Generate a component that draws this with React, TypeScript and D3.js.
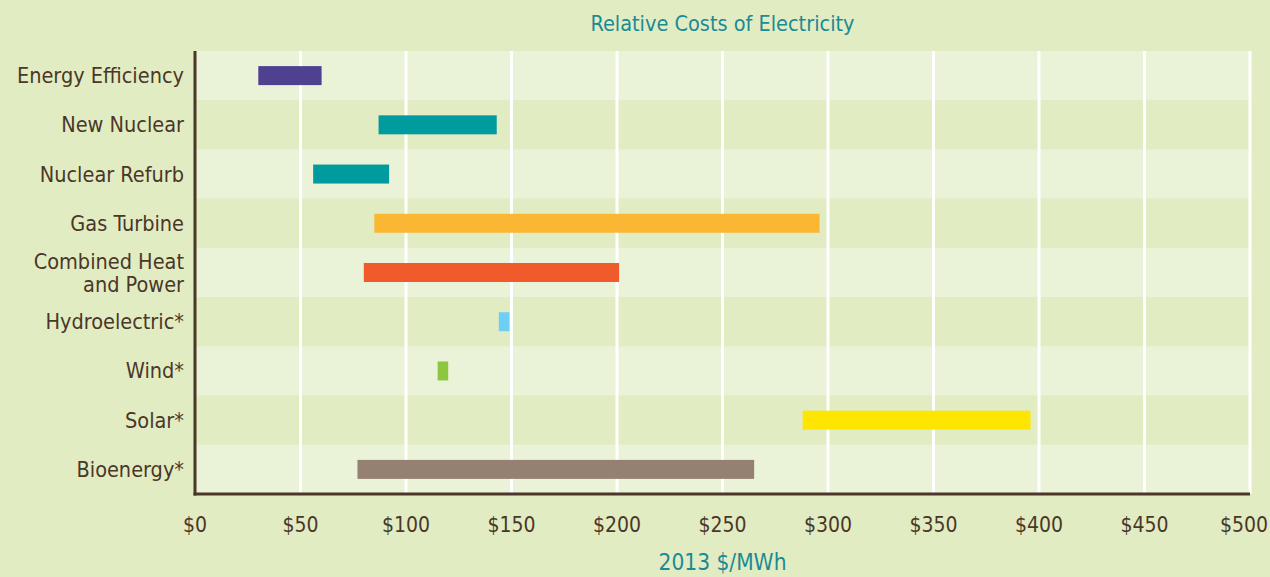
import { useEffect, useRef } from "react";
import * as d3 from "d3";

const categories = [
  "Energy Efficiency",
  "New Nuclear",
  "Nuclear Refurb",
  "Gas Turbine",
  "Combined Heat\nand Power",
  "Hydroelectric*",
  "Wind*",
  "Solar*",
  "Bioenergy*",
];
const lowCost = [30, 87, 56, 85, 80, 144, 115, 288, 77];
const highCost = [60, 143, 92, 296, 201, 149, 120, 396, 265];
const barColors = ["#4f4190", "#009b9e", "#009b9e", "#fbb634", "#f15a2a", "#6dcff6", "#8dc63f", "#ffe600", "#958072"];
const ticks = [0, 50, 100, 150, 200, 250, 300, 350, 400, 450, 500];

const W = 1270;
const H = 577;
const font = "'DejaVu Sans Condensed', Lato, sans-serif";
const brown = "#4a3728";
const teal = "#1a8a94";

const App = () => {
  const ref = useRef<SVGSVGElement | null>(null);

  useEffect(() => {
    const margin = { top: 51, right: 20, bottom: 83, left: 195 };
    const width = W - margin.left - margin.right;
    const height = H - margin.top - margin.bottom;

    const svg = d3.select(ref.current);
    svg.selectAll("*").remove();

    svg.append("rect").attr("width", W).attr("height", H).attr("fill", "#e2ecc3");

    const g = svg.append("g").attr("transform", `translate(${margin.left},${margin.top})`);

    const x = d3.scaleLinear().domain([0, 500]).range([0, width]);
    const y = d3.scaleBand().domain(categories).range([0, height]).padding(0);

    // alternating row bands
    g.selectAll("rect.band")
      .data(categories)
      .enter()
      .append("rect")
      .attr("x", 0)
      .attr("y", (d) => y(d)!)
      .attr("width", width)
      .attr("height", y.bandwidth())
      .attr("fill", (_, i) => (i % 2 === 0 ? "#eaf3d7" : "#e2ecc3"));

    // gridlines
    g.selectAll("line.grid")
      .data(ticks.slice(1))
      .enter()
      .append("line")
      .attr("x1", (d) => x(d))
      .attr("x2", (d) => x(d))
      .attr("y1", 0)
      .attr("y2", height)
      .attr("stroke", "#ffffff")
      .attr("stroke-width", 3);

    const barH = 19;
    g.selectAll("rect.bar")
      .data(categories)
      .enter()
      .append("rect")
      .attr("x", (_, i) => x(lowCost[i]))
      .attr("y", (d) => y(d)! + y.bandwidth() / 2 - barH / 2)
      .attr("width", (_, i) => x(highCost[i]) - x(lowCost[i]))
      .attr("height", barH)
      .attr("fill", (_, i) => barColors[i]);

    // axes lines
    g.append("line")
      .attr("x1", 0)
      .attr("x2", 0)
      .attr("y1", 0)
      .attr("y2", height + 1.5)
      .attr("stroke", brown)
      .attr("stroke-width", 3);
    g.append("line")
      .attr("x1", -1.5)
      .attr("x2", width)
      .attr("y1", height)
      .attr("y2", height)
      .attr("stroke", brown)
      .attr("stroke-width", 3);

    // category labels
    g.selectAll("text.cat")
      .data(categories)
      .enter()
      .append("text")
      .attr("text-anchor", "end")
      .attr("font-family", font)
      .attr("font-size", 21.5)
      .attr("fill", brown)
      .each(function (d) {
        const lines = d.split("\n");
        const cy = y(d)! + y.bandwidth() / 2;
        const t = d3.select(this);
        lines.forEach((line, k) => {
          t.append("tspan")
            .attr("x", -11)
            .attr("y", cy + (k - (lines.length - 1) / 2) * 23)
            .attr("dy", "0.35em")
            .text(line);
        });
      });

    // tick labels (last one kept inside the page)
    g.selectAll("text.tick")
      .data(ticks)
      .enter()
      .append("text")
      .attr("x", (d, i) => (i === ticks.length - 1 ? width + 18 : x(d)))
      .attr("y", height + 31)
      .attr("dy", "0.35em")
      .attr("text-anchor", (_, i) => (i === ticks.length - 1 ? "end" : "middle"))
      .attr("font-family", font)
      .attr("font-size", 21)
      .attr("fill", brown)
      .text((d) => `$${d}`);

    g.append("text")
      .attr("x", width / 2)
      .attr("y", height + 68)
      .attr("dy", "0.35em")
      .attr("text-anchor", "middle")
      .attr("font-family", font)
      .attr("font-size", 22.5)
      .attr("fill", teal)
      .text("2013 $/MWh");

    svg
      .append("text")
      .attr("x", margin.left + width / 2)
      .attr("y", 23)
      .attr("dy", "0.35em")
      .attr("text-anchor", "middle")
      .attr("font-family", font)
      .attr("font-size", 21.5)
      .attr("fill", teal)
      .text("Relative Costs of Electricity");
  }, []);

  return (
    <svg
      ref={ref}
      width={W}
      height={H}
      style={{ position: "absolute", left: 0, top: 0, display: "block" }}
    />
  );
};

export default App;
